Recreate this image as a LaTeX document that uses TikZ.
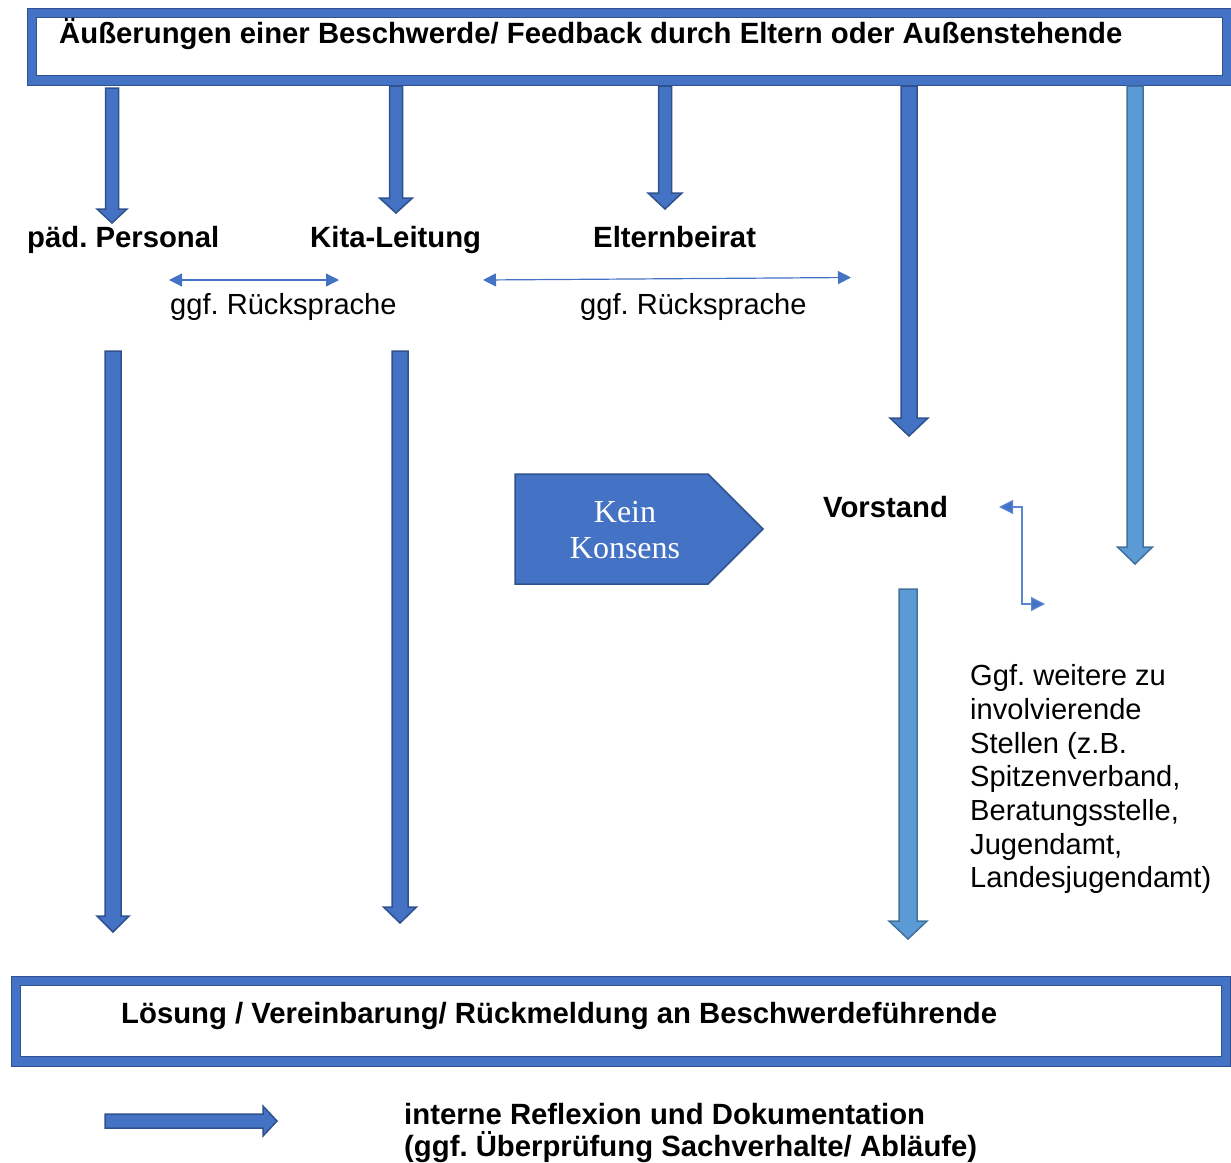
\documentclass[tikz,border=0pt]{standalone}
\usepackage{fontspec}
\setmainfont{Liberation Sans}
\newfontfamily\kserif{Liberation Serif}
\usetikzlibrary{arrows.meta,calc}
\definecolor{cA}{HTML}{4472C4}
\definecolor{cAd}{HTML}{2F528F}
\definecolor{cB}{HTML}{5B9BD5}
\definecolor{cBd}{HTML}{41719C}
\definecolor{cL}{HTML}{5A86D2}
\frenchspacing
\begin{document}
\begin{tikzpicture}[x=1pt,y=-1pt,
  blockdown/.style n args={3}{to path={let \p1=(\tikztostart), \p2=(\tikztotarget) in
    ({\x1-#1},\y1) -- ({\x1-#1},{\y2+#3}) -- ({\x1-#2},{\y2+#3}) -- (\x1,\y2)
    -- ({\x1+#2},{\y2+#3}) -- ({\x1+#1},{\y2+#3}) -- ({\x1+#1},\y1) -- cycle}},
  blockright/.style n args={3}{to path={let \p1=(\tikztostart), \p2=(\tikztotarget) in
    (\x1,{\y1+#1}) -- ({\x2-#3},{\y1+#1}) -- ({\x2-#3},{\y1+#2}) -- (\x2,\y1)
    -- ({\x2-#3},{\y1-#2}) -- ({\x2-#3},{\y1-#1}) -- (\x1,{\y1-#1}) -- cycle}},
  darkarrow/.style={fill=cA, draw=cAd, line width=1.5pt, line join=miter},
  lightarrow/.style={fill=cB, draw=cBd, line width=1.5pt, line join=miter},
  frame/.style={draw=cAd, double=cA, double distance=8.6pt, line width=0.8pt, fill=white, inner sep=0pt},
  bold/.style={font=\fontsize{29.3}{33.7}\selectfont\bfseries, inner sep=0pt},
  plain/.style={font=\fontsize{29.1}{33.7}\selectfont, inner sep=0pt},
  thinlink/.style={draw=cA, line width=1.2pt, {Triangle[length=13pt,width=13pt]}-{Triangle[length=13pt,width=13pt]}},
  elbowlink/.style={draw=cL, line width=1.2pt, {Triangle[length=14pt,width=14pt,fill=cA]}-{Triangle[length=14pt,width=14pt,fill=cA]}}
]
\useasboundingbox (0,0) rectangle (1231,1162);

% top box
\node[frame, minimum width=1195pt, minimum height=67.5pt] (topbox) at (629.5,46.75) {};
\node[bold, anchor=base west] (toptext) at (59,43.5) {Äußerungen einer Beschwerde/ Feedback durch Eltern oder Außenstehende};

% bottom box
\node[frame, minimum width=1210pt, minimum height=80.5pt] (botbox) at (621,1021.25) {};
\node[bold, anchor=base west] (bottext) at (121,1023) {Lösung / Vereinbarung/ Rückmeldung an Beschwerdeführende};

% labels
\node[bold, anchor=base west] (paed) at (27,247) {päd. Personal};
\node[bold, anchor=base west] (kita) at (310,247) {Kita-Leitung};
\node[bold, anchor=base west] (eltern) at (593,247) {Elternbeirat};
\node[plain, anchor=base west] (rs1) at (170,314) {ggf. Rücksprache};
\node[plain, anchor=base west] (rs2) at (580,314) {ggf. Rücksprache};
\node[bold, anchor=base west] (vorstand) at (823,517) {Vorstand};
\node[plain, anchor=north west, align=left] (weitere) at (970,664.5)
  {Ggf. weitere zu\\involvierende\\Stellen (z.B.\\Spitzenverband,\\Beratungsstelle,\\Jugendamt,\\Landesjugendamt)};
\node[bold, anchor=north west, align=left, font=\fontsize{29.3}{32.5}\selectfont\bfseries] (legend) at (404,1103)
  {interne Reflexion und Dokumentation\\(ggf. Überprüfung Sachverhalte/ Abläufe)};

% Kein Konsens
\draw[fill=cA, draw=cAd, line width=1.5pt, line join=miter] (515,474) -- (708,474) -- (763,529) -- (708,584) -- (515,584) -- cycle;
\node[align=center, text=white, font=\kserif\fontsize{32}{36}\selectfont, inner sep=0pt] (kein) at (625,530) {Kein\\Konsens};

% coordinates for block arrows
\coordinate (a1s) at (112,88);   \coordinate (a1e) at (112,223);
\coordinate (a2s) at (396,86);   \coordinate (a2e) at (396,213);
\coordinate (a3s) at (665,86);   \coordinate (a3e) at (665,209);
\coordinate (a4s) at (909,86);   \coordinate (a4e) at (909,436);
\coordinate (a5s) at (1135,86);  \coordinate (a5e) at (1135,564);
\coordinate (l1s) at (113,351);  \coordinate (l1e) at (113,932);
\coordinate (l2s) at (400,351);  \coordinate (l2e) at (400,923);
\coordinate (vs) at (908,589);   \coordinate (ve) at (908,939);
\coordinate (gs) at (105,1121);  \coordinate (ge) at (277,1121);

\draw[darkarrow] (a1s) to[blockdown={6.5pt}{15pt}{14pt}] (a1e);
\draw[darkarrow] (a2s) to[blockdown={6.5pt}{16.5pt}{15pt}] (a2e);
\draw[darkarrow] (a3s) to[blockdown={6.5pt}{17pt}{16pt}] (a3e);
\draw[darkarrow] (a4s) to[blockdown={8pt}{19pt}{18pt}] (a4e);
\draw[lightarrow] (a5s) to[blockdown={8pt}{17.5pt}{17pt}] (a5e);
\draw[darkarrow] (l1s) to[blockdown={8pt}{16pt}{16pt}] (l1e);
\draw[darkarrow] (l2s) to[blockdown={8pt}{16.5pt}{16pt}] (l2e);
\draw[lightarrow] (vs) to[blockdown={9pt}{19pt}{18pt}] (ve);
\draw[darkarrow] (gs) to[blockright={7pt}{15pt}{14pt}] (ge);

% thin double arrows
\coordinate (d1a) at (169,280); \coordinate (d1b) at (339,280);
\coordinate (d2a) at (483,280); \coordinate (d2b) at (851,277.5);
\draw[thinlink] (d1a) -- (d1b);
\draw[thinlink] (d2a) -- (d2b);

% elbow connector
\coordinate (e1) at (999,507); \coordinate (e2) at (1045,604);
\draw[elbowlink] (e1) -- (1022,507) -- (1022,604) -- (e2);
\end{tikzpicture}
\end{document}
